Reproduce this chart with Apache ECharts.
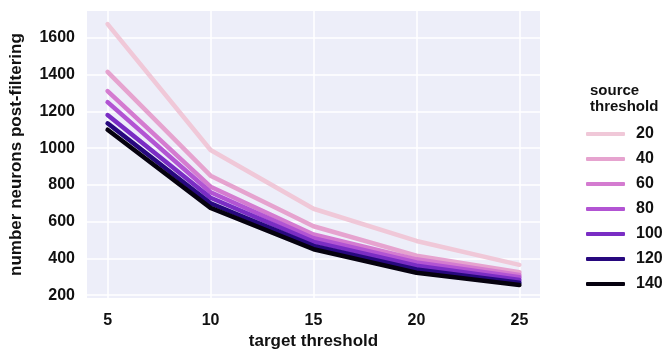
<!DOCTYPE html>
<html>
<head>
<meta charset="utf-8">
<script src="https://cdn.jsdelivr.net/npm/echarts@6/dist/echarts.min.js"></script>
<style>
  html, body { margin: 0; padding: 0; background: #fff; }
  #chart { width: 662px; height: 355px; }
</style>
</head>
<body>
<div id="chart"></div>
<script>
// target threshold on x, one line per source threshold
const targetThresholds = [5, 10, 15, 20, 25];
const sourceThresholds = ["20", "40", "60", "80", "100", "120", "140"];
const counts20 = [1675, 990, 670, 495, 365];
const counts40 = [1415, 850, 575, 415, 325];
const counts60 = [1310, 790, 530, 395, 310];
const counts80 = [1250, 760, 510, 378, 298];
const counts100 = [1180, 730, 490, 360, 283];
const counts120 = [1135, 700, 468, 340, 268];
const counts140 = [1100, 675, 450, 322, 255];
const yTicks = [200, 400, 600, 800, 1000, 1200, 1400, 1600];
const lineColors = ["#f0c8d8", "#e6a3cf", "#d47bd0", "#b254d3", "#7a2dc4", "#27087e", "#06020f"];

const allCounts = [counts20, counts40, counts60, counts80, counts100, counts120, counts140];
const font = "Liberation Sans";
const txt = "#111";

const chart = echarts.init(document.getElementById("chart"));

const series = sourceThresholds.map((name, i) => {
  return {
    name: name,
    type: "line",
    data: targetThresholds.map((x, j) => [x, allCounts[i][j]]),
    showSymbol: false,
    symbol: "none",
    lineStyle: { width: 4.5, color: lineColors[i], cap: "round", join: "round" },
    itemStyle: { color: lineColors[i] },
    emphasis: { disabled: true },
    animation: false,
  };
});

chart.setOption({
  animation: false,
  title: {
    text: "source\nthreshold",
    left: 585,
    top: 78,
    textStyle: { fontFamily: font, fontSize: 15, lineHeight: 16, color: txt, fontWeight: "bold" },
  },
  legend: {
    orient: "vertical",
    left: 581,
    top: 121,
    itemWidth: 39,
    itemHeight: 4,
    itemGap: 9,
    icon: "roundRect",
    data: sourceThresholds,
    textStyle: { fontFamily: font, fontSize: 16, lineHeight: 16, color: txt, fontWeight: "bold", padding: [0, 0, 0, 6] },
  },
  grid: { left: 86, right: 122, top: 11, bottom: 53, backgroundColor: "#edeef9", show: true, borderWidth: 0 },
  xAxis: {
    type: "value",
    min: 4,
    max: 26,
    name: "target threshold",
    nameLocation: "middle",
    nameGap: 33,
    nameTextStyle: { fontFamily: font, fontSize: 17, color: txt, fontWeight: "bold" },
    axisLine: { show: false },
    axisTick: { show: false, customValues: targetThresholds },
    axisLabel: { customValues: targetThresholds, margin: 14, fontFamily: font, fontSize: 16, color: txt, fontWeight: "bold" },
    splitLine: { show: true, lineStyle: { color: "#fff", width: 1.5 } },
  },
  yAxis: {
    type: "value",
    min: 184,
    max: 1746,
    name: "number neurons post-filtering",
    nameLocation: "middle",
    nameGap: 62,
    nameTextStyle: { fontFamily: font, fontSize: 17, color: txt, fontWeight: "bold" },
    axisLine: { show: false },
    axisTick: { show: false, customValues: yTicks },
    axisLabel: {
      customValues: yTicks,
      margin: 12,
      fontFamily: font,
      fontSize: 16,
      color: txt,
      fontWeight: "bold",
      formatter: (v) => String(v),
    },
    splitLine: { show: true, lineStyle: { color: "#fff", width: 1.5 } },
  },
  series: series,
});
</script>
</body>
</html>
